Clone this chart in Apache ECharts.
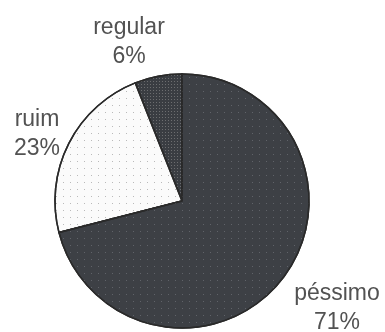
<!DOCTYPE html>
<html>
<head>
<meta charset="utf-8">
<script src="https://cdn.jsdelivr.net/npm/echarts@6/dist/echarts.min.js"></script>
<style>html,body{margin:0;padding:0;background:#fff}#c{width:385px;height:332px}</style>
</head>
<body>
<div id="c"></div>
<script>
const categories = ['regular', 'ruim', 'péssimo'];
const values = [6, 23, 71];
const labelPos = [[129, 42], [37, 134], [337, 308]];
const fills = ['#3a3d42', '#fbfbfb', '#3d4045'];
const decals = [
  {symbol: 'rect', symbolSize: 1, color: 'rgba(150,150,150,0.55)', dashArrayX: [1, 2], dashArrayY: [1, 2]},
  {symbol: 'rect', symbolSize: 1, color: 'rgba(150,150,150,0.65)', dashArrayX: [1, 6], dashArrayY: [1, 6]},
  {symbol: 'rect', symbolSize: 1, color: 'rgba(120,124,130,0.6)', dashArrayX: [1, 6], dashArrayY: [1, 6]}
];
const chart = echarts.init(document.getElementById('c'), null, {renderer: 'canvas'});
chart.setOption({
  animation: false,
  series: [{
    type: 'pie',
    center: [182, 201],
    radius: 127,
    startAngle: 90,
    clockwise: false,
    data: categories.map((n, i) => ({
      name: n, value: values[i],
      itemStyle: {color: fills[i], decal: decals[i]}
    })),
    itemStyle: {borderColor: '#2a2a2a', borderWidth: 1.5},
    label: {
      show: true,
      formatter: '{b}\n{d}%',
      fontFamily: 'Liberation Sans, Arial, sans-serif',
      fontSize: 23,
      lineHeight: 29,
      color: '#525252',
      align: 'center',
      overflow: 'none',
      width: 120
    },
    labelLine: {show: false},
    labelLayout: function (p) {
      const pos = labelPos[p.dataIndex];
      return {x: pos[0], y: pos[1], align: 'center', verticalAlign: 'middle', hideOverlap: false};
    },
    emphasis: {disabled: true}
  }]
});
</script>
</body>
</html>
